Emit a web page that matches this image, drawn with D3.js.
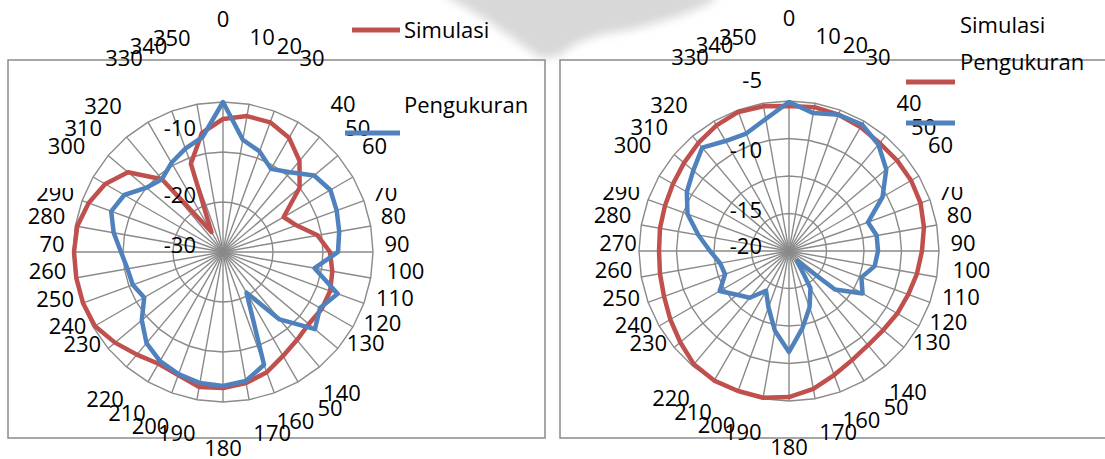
<!DOCTYPE html>
<html>
<head>
<meta charset="utf-8">
<script src="https://cdnjs.cloudflare.com/ajax/libs/d3/7.8.5/d3.min.js"></script>
<style>
  html, body { margin: 0; padding: 0; background: #fff; }
  svg { display: block; }
  text { font-family: "Open Sans", "Noto Sans", sans-serif; fill: #000; }
</style>
</head>
<body>
<svg id="chart" width="1105" height="459"></svg>
<script>
// Azimuth angles (degrees, clockwise from top)
const angles = d3.range(0, 360, 10);

// Angle labels as printed around each plot
const angleLabelsA = ["0","10","20","30","40","50","60","70","80","90","100","110","120","130","140","50","160","170",
  "180","190","200","210","220","230","240","250","260","70","280","290","300","310","320","330","340","350"];
const angleLabelsB = ["0","10","20","30","40","50","60","70","80","90","100","110","120","130","140","50","160","170",
  "180","190","200","210","220","230","240","250","260","270","280","290","300","310","320","330","340","350"];

// Radial axis ticks (dB)
const ticksA = [-30, -20, -10];
const ticksB = [-20, -15, -10, -5];

// Pattern A (dB)
const simA = [-3.4, -2.4, -2.4, -3.6, -6.2, -10, -16, -14.4, -10.8, -8.6, -7.8, -7.2, -7.2, -7.6, -7, -6, -4.4, -3.4,
  -2.8, -2.6, -3.8, -4.2, -3.2, -1.8, -0.4, -0.2, -0.2, -0.2, -0.4, -1.4, -2.8, -5.2, -11, -25.4, -11.2, -5.8];
const measA = [0, -7.2, -8.6, -10.8, -9.2, -6.2, -5.2, -5.8, -6.4, -7, -11.4, -5.6, -7.6, -6, -12.4, -20.6, -6, -3.8,
  -3.2, -3.4, -4, -4.8, -6.2, -8.8, -11.8, -10.8, -10.6, -9.6, -7.8, -6.2, -7.2, -10, -11, -9.4, -8, -6.6];

// Pattern B (dB)
const simB = [-0.67, -0.53, -0.67, -0.93, -1.2, -1.2, -1.2, -1.33, -1.73, -2.27, -2.67, -3.07, -3.33, -3.6, -3.6, -3.2, -2.4, -1.33,
  -0.53, -0.13, -0.13, -0.05, -0.27, -1.07, -1.73, -2.27, -2.53, -2.67, -2.53, -2.4, -2.13, -1.73, -1.2, -0.67, -0.27, -0.4];
const measB = [-0.13, -1.33, -0.67, -0.53, -1.47, -3.07, -5.6, -8.8, -8.13, -8.13, -8.4, -9.73, -8.67, -12, -18.27, -14.27, -12, -9.6,
  -6.53, -9.2, -12, -13.87, -11.87, -10.93, -9.33, -10.93, -10.67, -9.47, -7.73, -5.6, -4.27, -3.33, -2, -3.07, -3.33, -2.13];

const seriesNames = ["Simulasi", "Pengukuran"];

// ---- layout ----
const COLORS = { sim: "#C0504D", meas: "#4F81BD", grid: "#8a8a8a", frame: "#8a8a8a" };
const R = 150;
const FONT = 22;
// label nudges [dx, dy] from the default spot just outside the outer ring
const angleNudge = [[0,-66],[10,-51],[9,-49],[5,-50],[12,-20],[6,-17],[6,-23],[4,-3],[5,-8],[6,-9],[17,-11],[14,-12],
  [14,-14],[14,-18],[11,11],[23,10],[15,10],[20,15],[0,27],[-17,15],[-15,15],[-12,15],[-10,17],[-12,-17],[-10,-11],
  [-10,-11],[-10,-11],[-3,-9],[-11,-8],[-10,-3],[-11,-23],[-11,-17],[-12,-18],[-15,-50],[-17,-49],[-22,-50]];
// labels whose upper part is hidden in the printed layout
const topCut = new Set([70, 290]);

const svg = d3.select("#chart");
const defs = svg.append("defs");
defs.append("filter").attr("id", "soft").attr("x", "-20%").attr("y", "-20%").attr("width", "140%").attr("height", "140%")
  .append("feGaussianBlur").attr("stdDeviation", 5);

// faint grey shape behind the top edge
svg.append("path")
  .attr("d", "M440,-10 L720,-10 L712,2 C690,14 660,22 630,30 C600,34 575,40 560,56 L540,58 C520,44 490,20 452,0 Z")
  .attr("fill", "#d8d8d8").attr("filter", "url(#soft)");

function drawPolar(cfg) {
  const g = svg.append("g").attr("transform", `translate(${cfg.cx},${cfg.cy})`);
  const r = d3.scaleLinear().domain(cfg.domain).range([0, R]);
  const a = d3.scaleLinear().domain([0, 360]).range([0, 2 * Math.PI]);

  // rings
  const ringVals = d3.range(cfg.domain[0] + cfg.step, cfg.domain[1] + 1e-9, cfg.step);
  const ringLine = d3.lineRadial().angle(d => a(d)).curve(d3.curveLinearClosed);
  ringVals.forEach(v => {
    g.append("path")
      .attr("d", ringLine.radius(() => r(v))(angles))
      .attr("fill", "none").attr("stroke", COLORS.grid).attr("stroke-width", 1.4);
  });
  // spokes
  g.selectAll("line.spoke").data(angles).join("line")
    .attr("x1", 0).attr("y1", 0)
    .attr("x2", d => R * Math.sin(a(d)))
    .attr("y2", d => -R * Math.cos(a(d)))
    .attr("stroke", COLORS.grid).attr("stroke-width", 1.4);

  // series
  const line = d3.lineRadial()
    .angle((d, i) => a(angles[i]))
    .radius(d => r(d))
    .curve(d3.curveLinearClosed);
  g.append("path").attr("d", line(cfg.sim))
    .attr("fill", "none").attr("stroke", COLORS.sim).attr("stroke-width", 4.5).attr("stroke-linejoin", "round");
  g.append("path").attr("d", line(cfg.meas))
    .attr("fill", "none").attr("stroke", COLORS.meas).attr("stroke-width", 4.5).attr("stroke-linejoin", "round");

  // radial tick labels
  g.selectAll("text.tick").data(cfg.ticks).join("text")
    .attr("x", -27)
    .attr("y", (d, i) => -r(d) + cfg.tickNudge[i])
    .attr("text-anchor", "end").attr("dominant-baseline", "central")
    .attr("font-size", FONT)
    .text(d => d);

  // clip (in the group's own coordinates) that hides the top of a few angle labels
  const clipId = "cut" + cfg.id;
  defs.append("clipPath").attr("id", clipId)
    .append("rect").attr("x", -300).attr("y", -64).attr("width", 600).attr("height", 400);

  // angle labels
  g.selectAll("text.ang").data(angles).join("text")
    .attr("x", (d, i) => (R + 18) * Math.sin(a(d)) + angleNudge[i][0])
    .attr("y", (d, i) => -(R + 18) * Math.cos(a(d)) + angleNudge[i][1])
    .attr("text-anchor", "middle").attr("dominant-baseline", "central")
    .attr("font-size", FONT)
    .attr("clip-path", d => topCut.has(d) ? `url(#${clipId})` : null)
    .text((d, i) => cfg.labels[i]);
}

// frames
svg.append("rect").attr("x", 8).attr("y", 60).attr("width", 537).attr("height", 378)
  .attr("fill", "none").attr("stroke", COLORS.frame).attr("stroke-width", 1.5);
svg.append("rect").attr("x", 560).attr("y", 60).attr("width", 560).attr("height", 378)
  .attr("fill", "none").attr("stroke", COLORS.frame).attr("stroke-width", 1.5);

drawPolar({ id: "A", cx: 223, cy: 252, domain: [-30, 0], step: 10, ticks: ticksA, tickNudge: [-8, -8, -25],
  sim: simA, meas: measA, labels: angleLabelsA });
drawPolar({ id: "B", cx: 789, cy: 251, domain: [-20, 0], step: 5, ticks: ticksB, tickNudge: [-6, -5, -27, -60],
  sim: simB, meas: measB, labels: angleLabelsB });

// legends
function legend(items) {
  items.forEach(it => {
    svg.append("line").attr("x1", it.lx1).attr("x2", it.lx2).attr("y1", it.ly).attr("y2", it.ly)
      .attr("stroke", it.color).attr("stroke-width", 5);
    svg.append("text").attr("x", it.tx).attr("y", it.ty).attr("dominant-baseline", "central")
      .attr("font-size", FONT).text(it.name);
  });
}
legend([
  { name: seriesNames[0], color: COLORS.sim, lx1: 352, lx2: 400, ly: 30, tx: 404, ty: 29 },
  { name: seriesNames[1], color: COLORS.meas, lx1: 345, lx2: 400, ly: 133, tx: 404, ty: 104 }
]);
legend([
  { name: seriesNames[0], color: COLORS.sim, lx1: 906, lx2: 955, ly: 82, tx: 960, ty: 24 },
  { name: seriesNames[1], color: COLORS.meas, lx1: 906, lx2: 955, ly: 123, tx: 960, ty: 61 }
]);
</script>
</body>
</html>
